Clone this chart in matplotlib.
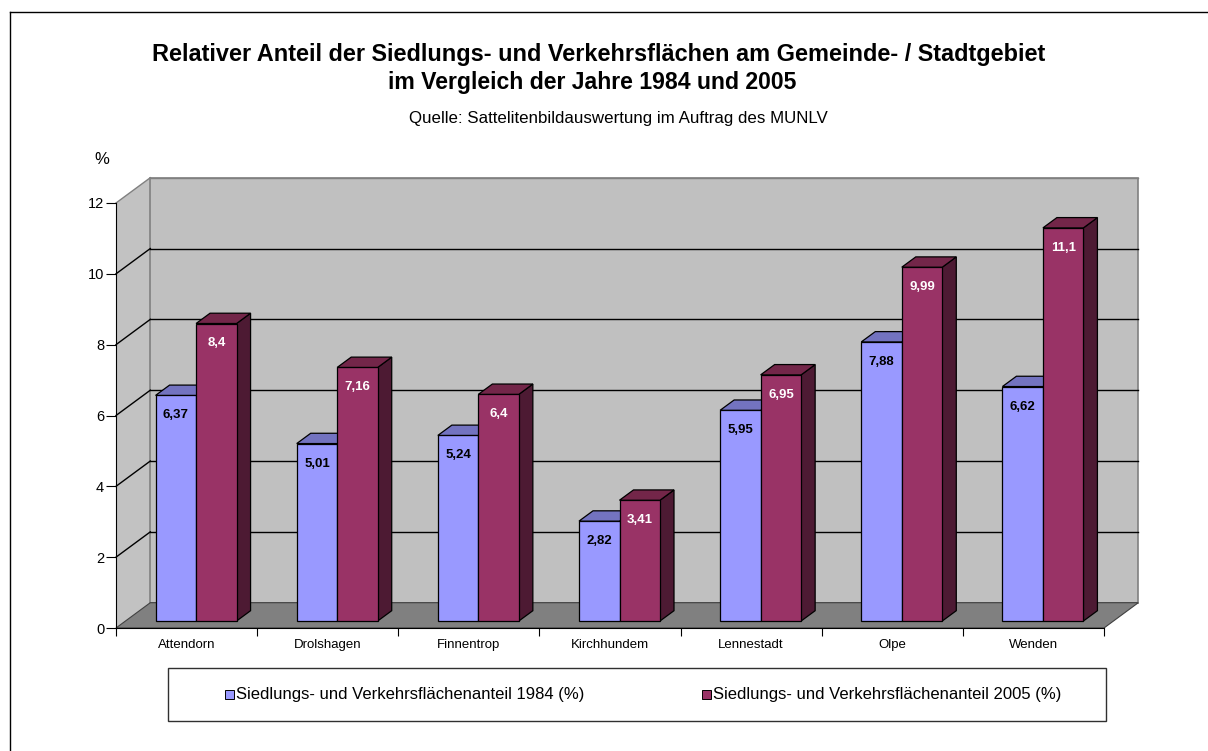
import matplotlib
matplotlib.use("Agg")
import matplotlib.pyplot as plt
from matplotlib.patches import Polygon, Rectangle
from matplotlib.lines import Line2D

plt.rcParams['font.family'] = ['Liberation Sans', 'DejaVu Sans']

categories = ["Attendorn", "Drolshagen", "Finnentrop", "Kirchhundem", "Lennestadt", "Olpe", "Wenden"]
values_1984 = [6.37, 5.01, 5.24, 2.82, 5.95, 7.88, 6.62]
values_2005 = [8.4, 7.16, 6.4, 3.41, 6.95, 9.99, 11.1]
labels_1984 = ["6,37", "5,01", "5,24", "2,82", "5,95", "7,88", "6,62"]
labels_2005 = ["8,4", "7,16", "6,4", "3,41", "6,95", "9,99", "11,1"]
series_names = ["Siedlungs- und Verkehrsflächenanteil 1984 (%)",
                "Siedlungs- und Verkehrsflächenanteil 2005 (%)"]
yticks = [0, 2, 4, 6, 8, 10, 12]

W, H = 1208, 751
fig = plt.figure(figsize=(W / 100, H / 100), dpi=100)
fig.patch.set_facecolor("white")

def fx(px):
    return px / W

def fy(py):
    return 1 - py / H

# front plane of the plot
x0p, x1p, y0p, y1p = 116, 1104, 628, 203
ax = fig.add_axes([fx(x0p), fy(y0p), fx(x1p) - fx(x0p), fy(y1p) - fy(y0p)])
ax.set_xlim(0, len(categories))
ax.set_ylim(0, 12)
ax.set_facecolor("none")

pxu = (x1p - x0p) / len(categories)
pyu = (y0p - y1p) / 12.0
DX = 34.3 / pxu          # full depth offset in data units
DY = 25.3 / pyu
FDX, FDY = 9.5 / pxu, 7.0 / pyu      # bar front offset
SDX, SDY = 14.0 / pxu, 10.3 / pyu    # bar depth
BW = 40.5 / pxu
n = len(categories)
wall_edge = "#808080"

# left wall
ax.add_patch(Polygon([(0, 0), (DX, DY), (DX, 12 + DY), (0, 12)], closed=True,
                     facecolor="#C2C2C2", edgecolor="none", clip_on=False, zorder=0))
# back wall
ax.add_patch(Polygon([(DX, DY), (n + DX, DY), (n + DX, 12 + DY), (DX, 12 + DY)], closed=True,
                     facecolor="#C0C0C0", edgecolor=wall_edge, lw=1.2, clip_on=False, zorder=0))
# gridlines
for v in yticks[1:]:
    col = "black" if v < 12 else wall_edge
    ax.plot([DX, n + DX], [v + DY, v + DY], color=col, lw=1.0, clip_on=False, zorder=1)
    ax.plot([0, DX], [v, v + DY], color=col, lw=1.0, clip_on=False, zorder=1)
# floor
ax.add_patch(Polygon([(0, 0), (n, 0), (n + DX, DY), (DX, DY)], closed=True,
                     facecolor="#808080", edgecolor="#404040", lw=0.8, clip_on=False, zorder=1))

# bars
centers = [i + 0.5 + FDX for i in range(n)]
xb = [c - BW for c in centers]
xr = [c for c in centers]
cols = {"b": ("#9999FF", "#7373C0", "#5C5C99"), "r": ("#993366", "#732649", "#4D1A33")}

def draw_bars(xs, vals, key, z):
    front, top, side = cols[key]
    ax.bar(xs, vals, width=BW, bottom=FDY, align="edge", color=front,
           edgecolor="black", linewidth=0.9, zorder=z, clip_on=False)
    for x, v in zip(xs, vals):
        t = v + FDY
        ax.add_patch(Polygon([(x, t), (x + BW, t), (x + BW + SDX, t + SDY), (x + SDX, t + SDY)],
                             closed=True, facecolor=top, edgecolor="black", lw=0.9,
                             zorder=z, clip_on=False))
        ax.add_patch(Polygon([(x + BW, FDY), (x + BW, t), (x + BW + SDX, t + SDY), (x + BW + SDX, FDY + SDY)],
                             closed=True, facecolor=side, edgecolor="black", lw=0.9,
                             zorder=z - 0.5, clip_on=False))

draw_bars(xb, values_1984, "b", 3)
draw_bars(xr, values_2005, "r", 5)

lab_off = 20.0 / pyu
for x, v, s in zip(xb, values_1984, labels_1984):
    ax.text(x + BW / 2, v + FDY - lab_off, s, ha="center", va="center",
            fontsize=9.5, fontweight="bold", color="black", zorder=10)
for x, v, s in zip(xr, values_2005, labels_2005):
    ax.text(x + BW / 2, v + FDY - lab_off, s, ha="center", va="center",
            fontsize=9.5, fontweight="bold", color="white", zorder=10)

# axes
for sp in ["top", "right"]:
    ax.spines[sp].set_visible(False)
ax.spines["left"].set_color("black")
ax.spines["bottom"].set_color("black")
ax.spines["left"].set_zorder(6)
ax.spines["bottom"].set_zorder(6)
ax.set_yticks(yticks)
ax.set_yticklabels([str(v) for v in yticks], fontsize=10.5)
ax.set_xticks(range(n + 1))
ax.set_xticklabels([""] * (n + 1))
ax.set_xticks([i + 0.5 for i in range(n)], minor=True)
ax.set_xticklabels(categories, minor=True, fontsize=9.5)
ax.tick_params(axis="x", which="major", direction="out", length=6, color="black")
ax.tick_params(axis="x", which="minor", length=0, pad=8)
ax.tick_params(axis="y", direction="out", length=7, pad=1.5, color="black")

# texts
fig.text(fx(599), fy(54), "Relativer Anteil der Siedlungs- und Verkehrsflächen am Gemeinde- / Stadtgebiet",
         ha="center", va="center", fontsize=16.9, fontweight="bold")
fig.text(fx(592), fy(82), "im Vergleich der Jahre 1984 und 2005",
         ha="center", va="center", fontsize=16.6, fontweight="bold")
fig.text(fx(618), fy(118), "Quelle: Sattelitenbildauswertung im Auftrag des MUNLV",
         ha="center", va="center", fontsize=12.2)
fig.text(fx(102), fy(160), "%", ha="center", va="center", fontsize=12)

# legend
fig.add_artist(Rectangle((fx(168), fy(721)), fx(1106) - fx(168), fy(668) - fy(721),
                         transform=fig.transFigure, facecolor="white", edgecolor="#303030", lw=1.0))
leg_y = 694
for mx, name, key in [(229, series_names[0], "b"), (706, series_names[1], "r")]:
    s = 9
    fig.add_artist(Rectangle((fx(mx - s / 2), fy(leg_y + s / 2)), s / W, s / H,
                             transform=fig.transFigure, facecolor=cols[key][0],
                             edgecolor="black", lw=0.7))
    fig.text(fx(mx + 7), fy(leg_y), name, ha="left", va="center", fontsize=12)

# outer border (left and top)
fig.add_artist(Line2D([fx(10), fx(10)], [fy(12), 0], transform=fig.transFigure, color="black", lw=1.0))
fig.add_artist(Line2D([fx(10), 1], [fy(12), fy(12)], transform=fig.transFigure, color="black", lw=1.0))

fig.savefig("out.png", dpi=100)
